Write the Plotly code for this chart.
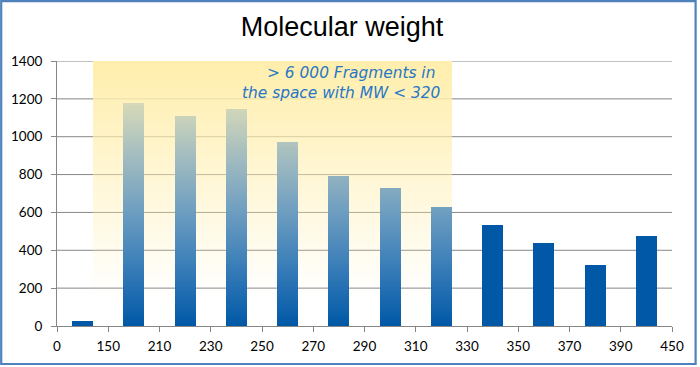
import plotly.graph_objects as go

# ---------------- data ----------------
tick_labels = ["0", "150", "210", "230", "250", "270", "290", "310", "330", "350", "370", "390", "450"]
counts = [25, 1175, 1110, 1145, 970, 790, 725, 628, 533, 438, 322, 475]
highlight_first = 1   # first bar inside highlighted region
highlight_last = 7    # last bar inside highlighted region
title_text = "Molecular weight"
note_text = "&gt; 6 000 Fragments in <br>the space with MW &lt; 320"
y_ticks = [0, 200, 400, 600, 800, 1000, 1200, 1400]

# ---------------- styling ----------------
W, H = 700, 367
L, R, T, B = 57, 28, 61, 41
PW, PH = W - L - R, H - T - B
YMAX = 1400
BAR_W = 0.41
BLUE = (0, 88, 166)
OVER = (255, 238, 172)
GRID = (134, 134, 134)
STEP = 10
FADE0 = 150

def rgb(c):
    return "rgb(%d,%d,%d)" % tuple(int(round(v)) for v in c)

def mix(a, b, t):
    return tuple(a[i] * (1 - t) + b[i] * t for i in range(3))

def over_alpha(v):
    return max(0.0, min(1.0, (v - FADE0) / (YMAX - FADE0)))

def bg_at(v):
    return mix((255, 255, 255), OVER, over_alpha(v))

xpos = [i + 0.5 for i in range(len(counts))]
hx0 = xpos[highlight_first - 1] + BAR_W / 2
hx1 = xpos[highlight_last] + BAR_W / 2

fig = go.Figure()

# solid bars (outside highlight)
idx_solid = [i for i in range(len(counts)) if not (highlight_first <= i <= highlight_last)]
fig.add_trace(go.Bar(x=[xpos[i] for i in idx_solid], y=[counts[i] for i in idx_solid], width=BAR_W,
                     marker=dict(color=rgb(BLUE), line=dict(width=0)),
                     hoverinfo="x+y", showlegend=False))

# gradient bars: layered rectangles from level k up to the value
gx, gbase, gy, gc = [], [], [], []
k = 0
while k < YMAX:
    for i in range(highlight_first, highlight_last + 1):
        v = counts[i]
        if k < v:
            gx.append(xpos[i])
            gbase.append(k)
            gy.append(v - k)
            lvl = k + STEP / 2
            gc.append(rgb(mix(BLUE, bg_at(lvl), min(1.0, lvl / YMAX))))
    k += STEP
fig.add_trace(go.Bar(x=gx, y=gy, base=gbase, width=BAR_W,
                     marker=dict(color=gc, line=dict(width=0)),
                     hoverinfo="skip", showlegend=False))

shapes = []
# highlight gradient (opaque strips, each from level v to top, drawn bottom-up)
v = FADE0
while v < YMAX:
    shapes.append(dict(type="rect", xref="x", yref="y", x0=hx0, x1=hx1, y0=v, y1=YMAX + 6,
                       fillcolor=rgb(bg_at(v + STEP / 2)), line=dict(width=0), layer="below"))
    v += STEP

# gridlines (drawn above the highlight, faded inside it)
for t in y_ticks[1:]:
    shapes.append(dict(type="line", xref="x", yref="y", x0=0, x1=hx0, y0=t, y1=t,
                       line=dict(color=rgb(GRID), width=1), layer="below"))
    shapes.append(dict(type="line", xref="x", yref="y", x0=hx0, x1=hx1, y0=t, y1=t,
                       line=dict(color=rgb(mix(GRID, OVER, over_alpha(t))), width=1), layer="below"))
    shapes.append(dict(type="line", xref="x", yref="y", x0=hx1, x1=len(counts), y0=t, y1=t,
                       line=dict(color=rgb(GRID), width=1), layer="below"))

# outer border
def px_x(p):
    return (p - L) / PW

def px_y(p):
    return (T + PH - p) / PH

shapes.append(dict(type="rect", xref="paper", yref="paper",
                   x0=px_x(1.2), x1=px_x(695.6), y0=px_y(1.2), y1=px_y(364.0),
                   line=dict(color="#4F81BD", width=2.2), fillcolor="rgba(0,0,0,0)", layer="above"))

fig.update_layout(
    width=W, height=H,
    margin=dict(l=L, r=R, t=T, b=B, autoexpand=False),
    paper_bgcolor="white", plot_bgcolor="white",
    bargap=0, barmode="overlay",
    shapes=shapes,
    title=dict(text=title_text, x=342 / W, xanchor="center", xref="container",
               y=1 - 27 / H, yanchor="middle", yref="container", automargin=False,
               font=dict(family="Liberation Sans, Arial", size=27, color="black")),
    font=dict(family="Lato", size=13.5, color="black"),
    annotations=[dict(text=note_text, xref="x", yref="paper", x=hx1 - 0.2, y=1 - 1 / PH,
                      xanchor="right", yanchor="top", align="right", showarrow=False,
                      font=dict(family="DejaVu Sans", size=15.4, color="#2677C6", style="italic"))],
)
fig.update_xaxes(range=[0, len(counts)], tickmode="array", tickvals=list(range(len(tick_labels))),
                 ticktext=tick_labels, showgrid=False, zeroline=False, showline=True, linecolor=rgb(GRID),
                 linewidth=1, ticks="outside", ticklen=5, tickcolor=rgb(GRID), tickfont=dict(size=13.5),
                 ticklabelstandoff=3, automargin=False)
fig.update_yaxes(range=[0, YMAX], tickmode="array", tickvals=y_ticks, showgrid=False,
                 zeroline=False, showline=True, linecolor=rgb(GRID), linewidth=1, ticks="outside",
                 ticklen=5, tickcolor=rgb(GRID), tickfont=dict(size=13.5), ticklabelstandoff=6,
                 automargin=False)

fig.write_html("out.html", config={"displayModeBar": False},
               post_script="document.body.style.margin='0';document.body.style.overflow='hidden';")
